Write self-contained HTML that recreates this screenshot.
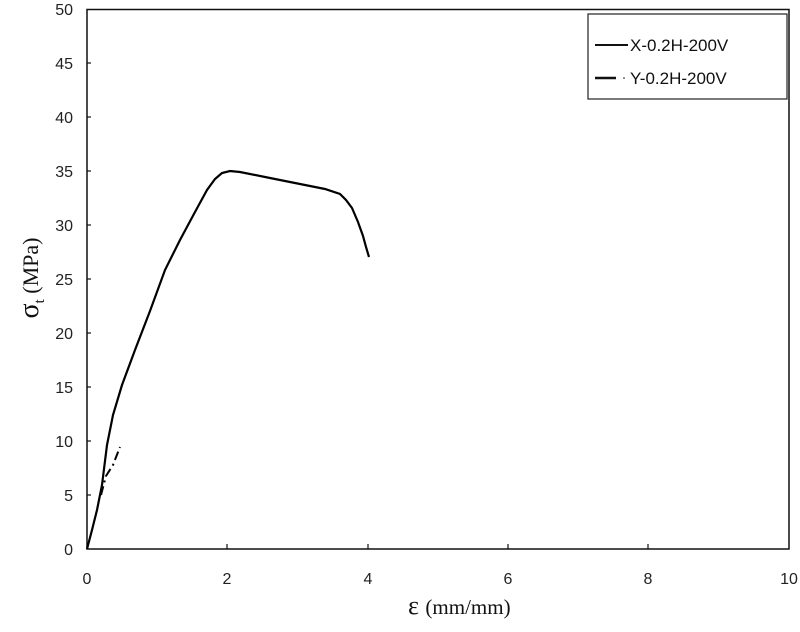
<!DOCTYPE html>
<html><head><meta charset="utf-8"><style>
body{margin:0;background:#fff;width:800px;height:627px;overflow:hidden}
</style></head><body>
<svg width="800" height="627" xmlns="http://www.w3.org/2000/svg">
<g font-family="Liberation Sans, sans-serif" font-size="16" fill="#222">
<text x="73" y="15" text-anchor="end">50</text>
<text x="73" y="69" text-anchor="end">45</text>
<text x="73" y="123" text-anchor="end">40</text>
<text x="73" y="177" text-anchor="end">35</text>
<text x="73" y="231" text-anchor="end">30</text>
<text x="73" y="285" text-anchor="end">25</text>
<text x="73" y="339" text-anchor="end">20</text>
<text x="73" y="393" text-anchor="end">15</text>
<text x="73" y="447" text-anchor="end">10</text>
<text x="73" y="501" text-anchor="end">5</text>
<text x="73" y="555" text-anchor="end">0</text>
<text x="87" y="584" text-anchor="middle">0</text>
<text x="227" y="584" text-anchor="middle">2</text>
<text x="368" y="584" text-anchor="middle">4</text>
<text x="508" y="584" text-anchor="middle">6</text>
<text x="648" y="584" text-anchor="middle">8</text>
<text x="789" y="584" text-anchor="middle">10</text>
</g>
<rect x="87" y="9.5" width="702" height="539.5" fill="none" stroke="#111" stroke-width="1.5"/>
<g stroke="#111" stroke-width="1.2">
<line x1="87" y1="63" x2="91" y2="63"/><line x1="87" y1="117" x2="91" y2="117"/>
<line x1="87" y1="171" x2="91" y2="171"/><line x1="87" y1="225" x2="91" y2="225"/>
<line x1="87" y1="279" x2="91" y2="279"/><line x1="87" y1="333" x2="91" y2="333"/>
<line x1="87" y1="387" x2="91" y2="387"/><line x1="87" y1="441" x2="91" y2="441"/>
<line x1="87" y1="495" x2="91" y2="495"/>
<line x1="227" y1="549" x2="227" y2="544"/><line x1="368" y1="549" x2="368" y2="544"/>
<line x1="508" y1="549" x2="508" y2="544"/><line x1="648" y1="549" x2="648" y2="544"/>
</g>
<path fill="none" stroke="#000" stroke-width="2.2" d="M87,549 L92,530 L97,510 L102,485 L107,445 L113,415 L122,385 L135,350 L150,311 L165,270 L180,240 L195,212 L207,190 L215,179 L222,173 L230,171 L240,172 L270,178 L300,184 L325,189 L340,194 L346,200 L352,208 L358,222 L363,236 L366,247 L369,257"/>
<polyline fill="none" stroke="#000" stroke-width="2" stroke-dasharray="9,4,2,4" points="101,495 106,476 113,465 120,447"/>
<g font-family="Liberation Serif, serif" fill="#111">
<text x="408" y="614" font-size="26">ε <tspan font-size="21">(mm/mm)</tspan></text>
<text transform="translate(38,278) rotate(-90)" text-anchor="middle" font-size="22"><tspan font-size="28">σ</tspan><tspan font-size="15" dy="6">t</tspan><tspan dy="-6"> (MPa)</tspan></text>
</g>
<rect x="588" y="14" width="199" height="85" fill="#fff" stroke="#222" stroke-width="1.2"/>
<line x1="595" y1="45" x2="628" y2="45" stroke="#111" stroke-width="2"/>
<line x1="595" y1="78" x2="616" y2="78" stroke="#111" stroke-width="2.5"/>
<circle cx="624" cy="78" r="0.8" fill="#111"/>
<g font-family="Liberation Sans, sans-serif" font-size="17" fill="#111">
<text x="630" y="51">X-0.2H-200V</text>
<text x="630" y="84">Y-0.2H-200V</text>
</g>
</svg>
</body></html>
